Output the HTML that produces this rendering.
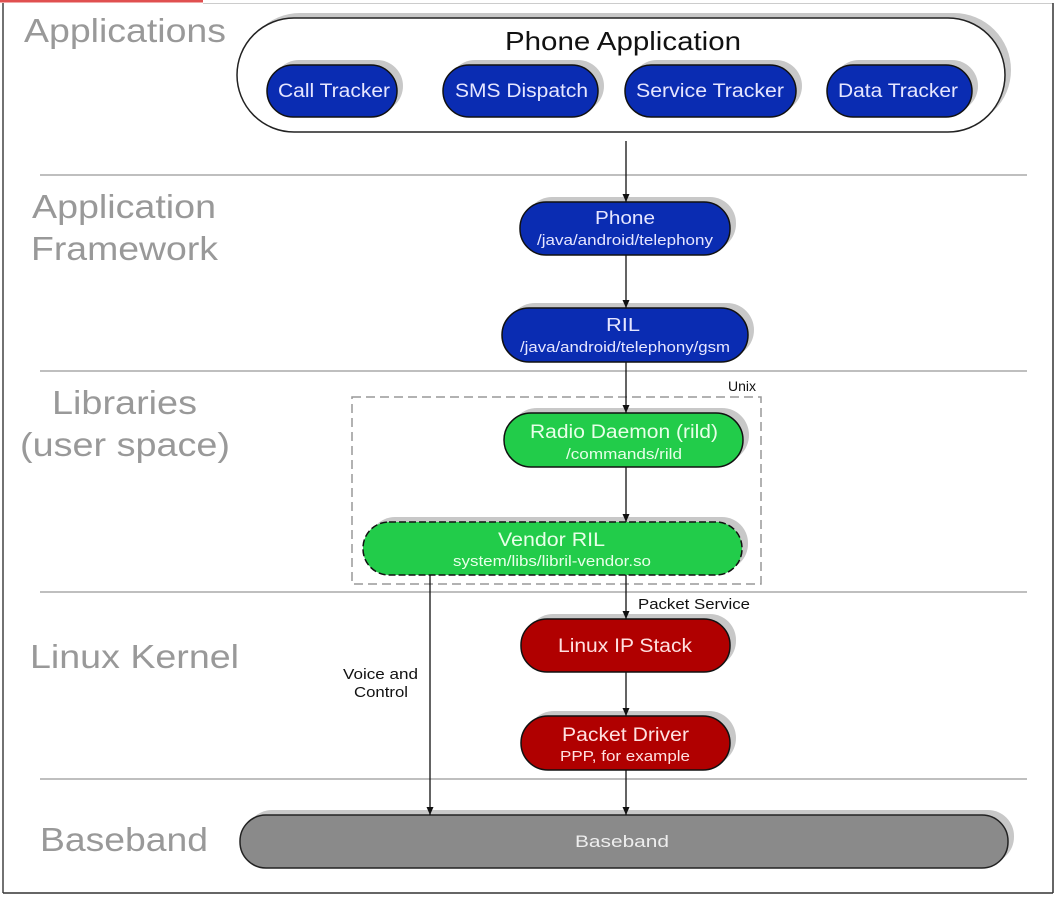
<!DOCTYPE html>
<html><head><meta charset="utf-8"><style>
html,body{margin:0;padding:0;background:#fff;}
svg{display:block;font-family:"Liberation Sans",Arial,sans-serif;}
</style></head><body>
<svg width="1057" height="897" viewBox="0 0 1057 897" xmlns="http://www.w3.org/2000/svg">
<defs>
<marker id="ah" markerWidth="9" markerHeight="8" refX="8" refY="4" orient="auto" markerUnits="userSpaceOnUse">
<path d="M0,0.5 L8,4 L0,7.5 Z" fill="#111"/></marker>
</defs>
<rect x="0" y="0" width="1057" height="897" fill="#fff"/>
<line x1="0" y1="1" x2="203" y2="1" stroke="#e05050" stroke-width="3"/>
<line x1="203" y1="3.5" x2="1053" y2="3.5" stroke="#ccc" stroke-width="1"/>
<line x1="3" y1="3" x2="3" y2="893" stroke="#444" stroke-width="1.5"/>
<line x1="1053" y1="3" x2="1053" y2="893" stroke="#333" stroke-width="1.5"/>
<line x1="3" y1="893" x2="1053" y2="893" stroke="#333" stroke-width="1.5"/>
<g stroke="#aaa" stroke-width="1.5">
<line x1="40" y1="175" x2="1027" y2="175"/>
<line x1="40" y1="371" x2="1027" y2="371"/>
<line x1="40" y1="592" x2="1027" y2="592"/>
<line x1="40" y1="779" x2="1027" y2="779"/>
</g>
<g fill="#999" font-size="33" lengthAdjust="spacingAndGlyphs">
<text x="24" y="42" textLength="202" lengthAdjust="spacingAndGlyphs">Applications</text>
<text x="32" y="218" textLength="184" lengthAdjust="spacingAndGlyphs">Application</text>
<text x="31" y="260" textLength="187" lengthAdjust="spacingAndGlyphs">Framework</text>
<text x="52" y="414" textLength="145" lengthAdjust="spacingAndGlyphs">Libraries</text>
<text x="20" y="456" textLength="210" lengthAdjust="spacingAndGlyphs">(user space)</text>
<text x="30" y="668" textLength="209" lengthAdjust="spacingAndGlyphs">Linux Kernel</text>
<text x="40" y="851" textLength="168" lengthAdjust="spacingAndGlyphs">Baseband</text>
</g>
<rect x="243" y="13" width="768" height="114" rx="57" fill="#c8c8c8"/>
<rect x="237" y="18" width="768" height="114" rx="57" fill="#fff" stroke="#222" stroke-width="1.5"/>
<text x="505" y="50" font-size="26" textLength="236" lengthAdjust="spacingAndGlyphs" fill="#111">Phone Application</text>
<g fill="#c8c8c8">
<rect x="273" y="60" width="130" height="52" rx="26"/>
<rect x="449" y="60" width="155" height="52" rx="26"/>
<rect x="631" y="60" width="171" height="52" rx="26"/>
<rect x="833" y="60" width="145" height="52" rx="26"/>
<rect x="526" y="197" width="210" height="53" rx="26"/>
<rect x="508" y="303" width="246" height="54" rx="27"/>
<rect x="510" y="408" width="239" height="54" rx="27"/>
<rect x="369" y="517" width="379" height="53" rx="26"/>
<rect x="527" y="614" width="209" height="53" rx="26"/>
<rect x="527" y="711" width="209" height="54" rx="27"/>
<rect x="246" y="810" width="768" height="53" rx="26"/>
</g>
<g fill="#0a2cb2" stroke="#111" stroke-width="1.5">
<rect x="267" y="65" width="130" height="52" rx="26"/>
<rect x="443" y="65" width="155" height="52" rx="26"/>
<rect x="625" y="65" width="171" height="52" rx="26"/>
<rect x="827" y="65" width="145" height="52" rx="26"/>
<rect x="520" y="202" width="210" height="53" rx="26"/>
<rect x="502" y="308" width="246" height="54" rx="27"/>
</g>
<g fill="#e6e6ff" font-size="19">
<text x="278" y="97" textLength="112" lengthAdjust="spacingAndGlyphs">Call Tracker</text>
<text x="455" y="97" textLength="133" lengthAdjust="spacingAndGlyphs">SMS Dispatch</text>
<text x="636" y="97" textLength="148" lengthAdjust="spacingAndGlyphs">Service Tracker</text>
<text x="838" y="97" textLength="120" lengthAdjust="spacingAndGlyphs">Data Tracker</text>
<text x="595" y="224" font-size="18" textLength="60" lengthAdjust="spacingAndGlyphs">Phone</text>
<text x="537" y="245" font-size="15" textLength="176" lengthAdjust="spacingAndGlyphs">/java/android/telephony</text>
<text x="606" y="331" font-size="18" textLength="34" lengthAdjust="spacingAndGlyphs">RIL</text>
<text x="520" y="352" font-size="15" textLength="210" lengthAdjust="spacingAndGlyphs">/java/android/telephony/gsm</text>
</g>
<rect x="352" y="397" width="409" height="187" fill="none" stroke="#999" stroke-width="1.5" stroke-dasharray="9,5"/>
<text x="742" y="391" font-size="14" text-anchor="middle" fill="#111">Unix</text>
<rect x="504" y="413" width="239" height="54" rx="27" fill="#22cc4a" stroke="#111" stroke-width="1.5"/>
<rect x="363" y="522" width="379" height="53" rx="26" fill="#22cc4a" stroke="#111" stroke-width="1.5" stroke-dasharray="7,3"/>
<g fill="#e8ffe8">
<text x="530" y="438" font-size="19" textLength="188" lengthAdjust="spacingAndGlyphs">Radio Daemon (rild)</text>
<text x="566" y="459" font-size="15" textLength="116" lengthAdjust="spacingAndGlyphs">/commands/rild</text>
<text x="498" y="546" font-size="19" textLength="107" lengthAdjust="spacingAndGlyphs">Vendor RIL</text>
<text x="453" y="566" font-size="15" textLength="198" lengthAdjust="spacingAndGlyphs">system/libs/libril-vendor.so</text>
</g>
<g fill="#b00000" stroke="#111" stroke-width="1.5">
<rect x="521" y="619" width="209" height="53" rx="26"/>
<rect x="521" y="716" width="209" height="54" rx="27"/>
</g>
<g fill="#ffe0e0">
<text x="558" y="652" font-size="19" textLength="134" lengthAdjust="spacingAndGlyphs">Linux IP Stack</text>
<text x="562" y="741" font-size="19" textLength="127" lengthAdjust="spacingAndGlyphs">Packet Driver</text>
<text x="560" y="761" font-size="15" textLength="130" lengthAdjust="spacingAndGlyphs">PPP, for example</text>
</g>
<rect x="240" y="815" width="768" height="53" rx="26" fill="#8a8a8a" stroke="#222" stroke-width="1.5"/>
<text x="575" y="847" font-size="17" textLength="94" lengthAdjust="spacingAndGlyphs" fill="#eee">Baseband</text>
<g stroke="#111" stroke-width="1.3" fill="none">
<line x1="626" y1="141" x2="626" y2="202" marker-end="url(#ah)"/>
<line x1="626" y1="255" x2="626" y2="308" marker-end="url(#ah)"/>
<line x1="626" y1="362" x2="626" y2="413" marker-end="url(#ah)"/>
<line x1="626" y1="467" x2="626" y2="522" marker-end="url(#ah)"/>
<line x1="626" y1="575" x2="626" y2="619" marker-end="url(#ah)"/>
<line x1="626" y1="672" x2="626" y2="716" marker-end="url(#ah)"/>
<line x1="626" y1="770" x2="626" y2="815" marker-end="url(#ah)"/>
<line x1="430" y1="575" x2="430" y2="815" marker-end="url(#ah)"/>
</g>
<text x="638" y="609" font-size="15" textLength="112" lengthAdjust="spacingAndGlyphs" fill="#111">Packet Service</text>
<text x="343" y="679" font-size="15" textLength="75" lengthAdjust="spacingAndGlyphs" fill="#111">Voice and</text>
<text x="354" y="697" font-size="15" textLength="54" lengthAdjust="spacingAndGlyphs" fill="#111">Control</text>
</svg>
</body></html>
